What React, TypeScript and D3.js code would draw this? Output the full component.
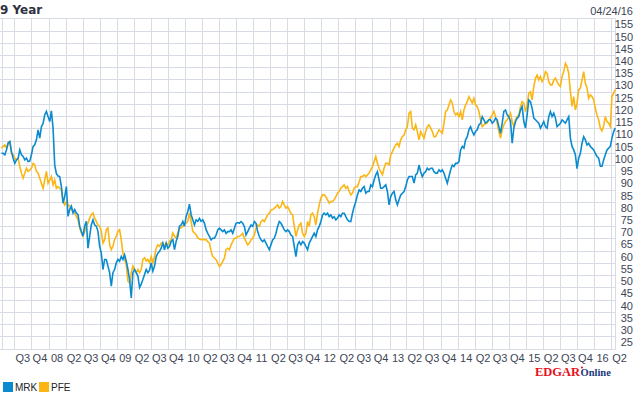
import React, { useEffect, useRef } from 'react';
import * as d3 from 'd3';

// 9 year price history, indexed (start ~ 100), sampled evenly from start to end date
const startDate = new Date(2007, 3, 24);
const endDate = new Date(2016, 3, 24);

const mrk = [
  99.8, 99.8, 99.2, 101.2, 104, 104.6, 100.5, 97.8, 95.7, 97.1,
  97.8, 101.2, 99.2, 98.5, 97.1, 97.8, 96.4, 96.6, 99.2, 102.6,
  103.3, 105.3, 109.4, 106, 110.7, 112, 115.5, 116.9, 114.8, 112.8,
  117.2, 110, 95, 91.5, 90.5, 90.3, 86.2, 79.4, 82.1, 86.2,
  74, 76.8, 78.2, 75.4, 76.8, 75.4, 74.7, 70, 67.9, 65.9,
  70, 72, 61, 65.9, 70.5, 72.6, 70.5, 70, 67.9, 61.8,
  59, 52.3, 56.4, 56.4, 53.7, 51, 45.5, 51, 52.3, 55,
  56.4, 55.7, 57.6, 56.4, 58.3, 55.7, 52.3, 48.2, 40.7, 51,
  52.3, 51, 49.6, 44.9, 46.3, 48.2, 50.3, 52.3, 51, 52,
  55, 51.6, 53.7, 57.6, 59, 59.7, 61, 63.1, 60.4, 63.1,
  61, 61.8, 63.8, 64.5, 60.4, 63.8, 65.9, 70, 70.5, 72,
  70, 74, 76, 79, 74.7, 72.6, 70.5, 72.6, 72, 73.2,
  72, 72.6, 71.3, 68.6,
  67.1, 65.8, 64.4, 65.1, 65.1, 66.4, 68.5, 69.2, 68.5, 67.8,
  68.5, 67.1, 67.8, 67.8, 68.5, 67.1, 69.2, 71.2, 71.5, 71.2,
  71.9, 71.2, 69.9, 66.4, 67.8, 69.2, 70.5, 69.9, 71.9, 71.2,
  67.8, 65.8, 64.4, 63.7, 64.4, 63.1, 61.7, 60.4, 62.4, 64.4,
  65.1, 67.1, 69.9, 71.9, 71.2, 69.9, 68.5, 67.8, 68.5, 67.8,
  66.4, 65.8, 61.7, 57.6, 62.4, 63.7, 62.4, 63.7, 63.1, 61.7,
  60.4, 63.1, 64.4, 65.8, 67.1, 65.8, 68.5, 69.9, 71.9, 74.6,
  75.3, 74.6, 75.3, 73.9, 74.6, 73.3, 73.9, 72.6, 73.3, 74.6,
  73.9, 75.3, 75.3, 73.9, 72.6, 71.9, 71.9, 75.3, 78.0, 80.1,
  82.8, 84.8, 84.2, 85.5, 86.2, 83.5, 84.2, 84.2, 86.9, 86.2,
  88.9, 91.0, 92.3, 88.9, 85.5, 85.5, 86.2, 86.9, 84.2, 78.7,
  82.1, 83.5, 84.2, 80.8, 78.7, 80.8, 82.8, 83.5, 84.2, 86.2,
  88.9, 90.3, 90.3,
  90.3, 87.6, 91.0, 91.7, 95.0, 92.3, 90.3, 91.7, 92.3, 93.7,
  93.0, 93.7, 93.7, 92.3, 91.7, 91.7, 93.0, 92.3, 93.0, 91.7,
  89.6, 87.6, 90.3, 93.0, 95.0, 94.4, 95.7, 95.7, 96.4, 101.2,
  102.6, 101.9, 105.3, 106.6, 109.4, 110.7, 108.7, 107.3, 108.7, 109.4,
  111.4, 112.1, 114.8, 113.5, 112.1, 112.8, 113.5, 113.5, 112.1, 112.8,
  114.2, 113.5, 110.7, 108.0, 112.1, 116.9, 117.5, 115.5, 114.8, 112.8,
  103.9, 110.1, 112.8, 114.2, 114.8, 117.5, 118.9, 112.8, 110.1, 115.5,
  121.6, 120.9, 118.2, 114.2, 113.5, 112.8, 112.1, 110.1, 111.4, 112.8,
  110.7, 110.1, 114.8, 116.9, 114.8, 116.2, 114.2, 110.7, 111.4, 112.1,
  113.5, 112.8, 112.1, 113.5, 114.8, 106.0, 102.6, 101.2, 99.2, 93.5,
  97.8, 99.8, 103.9, 106.6, 105.3, 103.2, 103.9, 102.6, 101.9, 101.2,
  99.8, 98.5, 97.8, 94.5, 94.5, 97.1, 99.2, 101.2, 101.9, 102.6,
  106.0, 108.7, 110.1,
];

const pfe = [
  101.9, 102.6, 103.3, 101.9, 104, 104.6, 99.8, 99.2, 97.8, 97.1,
  97.8, 94.4, 91.7, 89.6, 91.7, 93.7, 92.4, 93, 93.7, 95.7,
  95.1, 92.4, 91.7, 89.6, 87.6, 85.5, 88.9, 92.4, 87.6, 88.9,
  90.3, 86.9, 88.9, 85.5, 86.2, 85.5, 84.8, 80.8, 78.7, 80.1,
  78.7, 78.2, 76.8, 76, 75.4, 74, 72.6, 69.3, 67.2, 65.9,
  67.9, 70, 71.3, 73.3, 74.7, 75.4, 73.3, 72, 70.5, 70,
  67.9, 63.1, 64.5, 68.6, 69.3, 62.4, 60.4, 61.8, 64.5, 65.9,
  67.9, 68.6, 64.5, 59, 56.4, 54.3, 47.5, 46.8, 51, 53.7,
  52.3, 51, 52.3, 51, 52.3, 56.4, 57.1, 55.7, 56.4, 55,
  57.6, 55, 57.6, 61, 62.4, 61.8, 63.1, 63.1, 61.8, 63.1,
  62.4, 63.8, 64.5, 67.2, 65.9, 65.2, 67.2, 69.3, 69.3, 70,
  70.5, 71.3, 72, 75.4, 72, 67.9, 67.2, 66.5, 65.2, 64.8,
  64.5, 64.6, 64.5, 64.5,
  63.7, 63.1, 59.7, 57.6, 57.0, 56.3, 55.0, 53.5, 54.3, 55.6,
  57.0, 60.4, 61.0, 60.4, 62.4, 63.7, 65.1, 65.1, 65.8, 65.8,
  66.4, 67.1, 65.1, 63.7, 62.4, 63.1, 64.4, 65.1, 66.4, 69.2,
  70.5, 69.9, 71.9, 72.6, 71.9, 73.3, 74.6, 75.3, 76.7, 76.7,
  77.4, 78.0, 78.7, 77.4, 78.0, 80.1, 78.7, 77.4, 78.0, 76.7,
  75.3, 74.6, 69.9, 65.8, 68.5, 70.5, 71.2, 67.1, 65.8, 67.1,
  71.9, 69.9, 74.6, 75.3, 73.9, 70.5, 75.3, 78.7, 81.5, 82.8,
  82.8, 82.1, 80.8, 79.4, 80.1, 80.1, 80.8, 82.1, 83.5, 84.2,
  85.5, 86.2, 86.9, 85.5, 86.2, 84.2, 82.8, 83.5, 85.5, 86.2,
  86.2, 88.2, 90.3, 90.3, 91.0, 90.3, 91.0, 91.7, 93.0, 94.4,
  96.4, 98.5, 95.7, 93.7, 92.3, 91.0, 93.7, 95.7, 95.7, 95.1,
  99.2, 100.5, 101.9, 103.2, 103.9, 102.6, 105.3, 106.6, 107.3, 109.4,
  110.7, 116.2, 116.9,
  110.1, 109.4, 111.4, 108.7, 105.3, 108.7, 107.3, 106.0, 108.7, 110.7,
  111.4, 110.1, 108.7, 106.6, 106.6, 108.0, 109.4, 108.7, 108.0, 112.1,
  116.9, 117.5, 119.6, 121.6, 120.3, 116.9, 115.5, 116.2, 114.8, 116.9,
  113.5, 117.5, 119.6, 120.9, 123.0, 121.6, 120.3, 122.3, 119.6, 118.9,
  116.9, 113.5, 110.7, 111.4, 112.1, 112.1, 113.5, 114.2, 115.5, 116.9,
  114.8, 112.1, 108.7, 106.0, 109.4, 111.4, 112.8, 113.5, 114.8, 116.2,
  112.8, 110.7, 113.5, 114.8, 115.5, 118.9, 120.9, 120.3, 116.9, 119.6,
  124.4, 125.0, 121.6, 127.1, 130.5, 131.8, 129.8, 131.2, 129.1, 130.5,
  133.2, 132.5, 129.1, 127.8, 127.8, 129.8, 130.5, 129.1, 127.8, 127.1,
  131.2, 133.2, 136.6, 135.3, 132.5, 125.0, 119.0, 123.0, 117.5, 120.3,
  125.8, 126.5, 129.8, 133.2, 128.4, 126.5, 122.3, 123.7, 123.0, 121.6,
  118.2, 115.5, 113.5, 110.1, 109.0, 111.0, 114.8, 112.8, 112.1, 110.7,
  123.0, 124.4, 125.8,
];

const yTicks = [25, 30, 35, 40, 45, 50, 55, 60, 65, 70, 75, 80, 85, 90, 95, 100, 105, 110, 115, 120, 125, 130, 135, 140, 145, 150, 155];
const series = [
  { name: 'MRK', values: mrk, color: '#0a8bcf' },
  { name: 'PFE', values: pfe, color: '#fcb614' },
];

const App = () => {
  const svgRef = useRef(null);

  useEffect(() => {
    const svg = d3.select(svgRef.current);
    svg.selectAll('*').remove();

    const left = 1.5, right = 615.3, top = 18.3, bottom = 348.5;

    const x = d3.scaleTime().domain([startDate, endDate]).range([left, right]);
    const y = d3.scaleLinear().domain([20, 155]).range([bottom, top]);
    const crisp = (v) => Math.round(v) + 0.5;

    const grid = svg.append('g').attr('stroke', '#d6dbe4').attr('stroke-width', 1);

    // horizontal grid, every 5
    [20, ...yTicks].forEach(v => {
      grid.append('line')
        .attr('x1', 0).attr('x2', crisp(right))
        .attr('y1', crisp(y(v))).attr('y2', crisp(y(v)));
    });

    // quarter starts
    const quarters = d3.timeMonth.every(3).range(new Date(2007, 6, 1), endDate);
    [startDate, ...quarters, endDate].forEach(d => {
      grid.append('line')
        .attr('x1', crisp(x(d))).attr('x2', crisp(x(d)))
        .attr('y1', crisp(top)).attr('y2', crisp(bottom));
    });

    // right axis labels (drawn under each line)
    svg.append('g')
      .selectAll('text')
      .data(yTicks)
      .join('text')
      .attr('x', 633)
      .attr('y', d => y(d) + 10)
      .attr('text-anchor', 'end')
      .style('font-family', '"Liberation Sans", Arial, sans-serif')
      .style('font-size', '11px')
      .style('fill', '#3d4556')
      .text(d => d);

    // quarter labels, centred in each quarter
    svg.append('g')
      .selectAll('text')
      .data(quarters)
      .join('text')
      .attr('x', d => (x(d) + x(d3.timeMonth.offset(d, 3))) / 2)
      .attr('y', 362)
      .attr('text-anchor', 'middle')
      .style('font-family', '"Liberation Sans", Arial, sans-serif')
      .style('font-size', '11px')
      .style('fill', '#3d4556')
      .text(d => d.getMonth() === 0 ? d3.timeFormat('%y')(d) : 'Q' + (d.getMonth() / 3 + 1));

    // lines
    const line = d3.line()
      .x(d => d[0])
      .y(d => d[1]);

    [...series].reverse().forEach(s => {
      const idx = d3.scaleLinear().domain([0, s.values.length - 1]).range([startDate.getTime(), endDate.getTime()]);
      const pts = s.values.map((v, i) => [x(new Date(idx(i))), y(v)]);
      svg.append('path')
        .attr('d', line(pts))
        .attr('fill', 'none')
        .attr('stroke', s.color)
        .attr('stroke-width', 1.6)
        .attr('stroke-linejoin', 'miter');
    });

    // title and date
    svg.append('text')
      .attr('x', 0).attr('y', 14)
      .style('font-family', '"DejaVu Sans", Verdana, sans-serif')
      .style('font-size', '12px')
      .style('font-weight', 'bold')
      .style('fill', '#2e3040')
      .text('9 Year');

    svg.append('text')
      .attr('x', 633).attr('y', 15)
      .attr('text-anchor', 'end')
      .style('font-family', '"Liberation Sans", Arial, sans-serif')
      .style('font-size', '11px')
      .style('fill', '#3d4556')
      .text(d3.timeFormat('%m/%d/%y')(endDate));

    // legend
    const legend = svg.append('g').attr('transform', 'translate(3, 382)');
    series.forEach((s, i) => {
      const g = legend.append('g').attr('transform', `translate(${i * 36}, 0)`);
      g.append('rect').attr('width', 10).attr('height', 10).attr('fill', s.color);
      g.append('text')
        .attr('x', 12).attr('y', 9)
        .style('font-family', '"Liberation Sans", Arial, sans-serif')
        .style('font-size', '10px')
        .style('fill', '#222')
        .text(s.name);
    });

    // EDGAR Online mark
    const logo = svg.append('g');
    logo.append('text')
      .attr('x', 535).attr('y', 375.5)
      .style('font-family', '"Liberation Serif", "Times New Roman", serif')
      .style('font-size', '12.5px')
      .style('font-weight', 'bold')
      .style('fill', '#e8101c')
      .text('EDGAR');
    logo.append('circle').attr('cx', 582).attr('cy', 367.5).attr('r', 1).attr('fill', '#e8101c');
    logo.append('text')
      .attr('x', 580.5).attr('y', 376)
      .style('font-family', '"Liberation Serif", "Times New Roman", serif')
      .style('font-size', '10.5px')
      .style('font-weight', 'bold')
      .style('fill', '#1b3b7c')
      .text('Online');
  }, []);

  return (
    <div style={{ position: 'absolute', left: 0, top: 0 }}>
      <svg ref={svgRef} width={635} height={395} style={{ display: 'block', background: '#fff' }} />
    </div>
  );
};

export default App;
